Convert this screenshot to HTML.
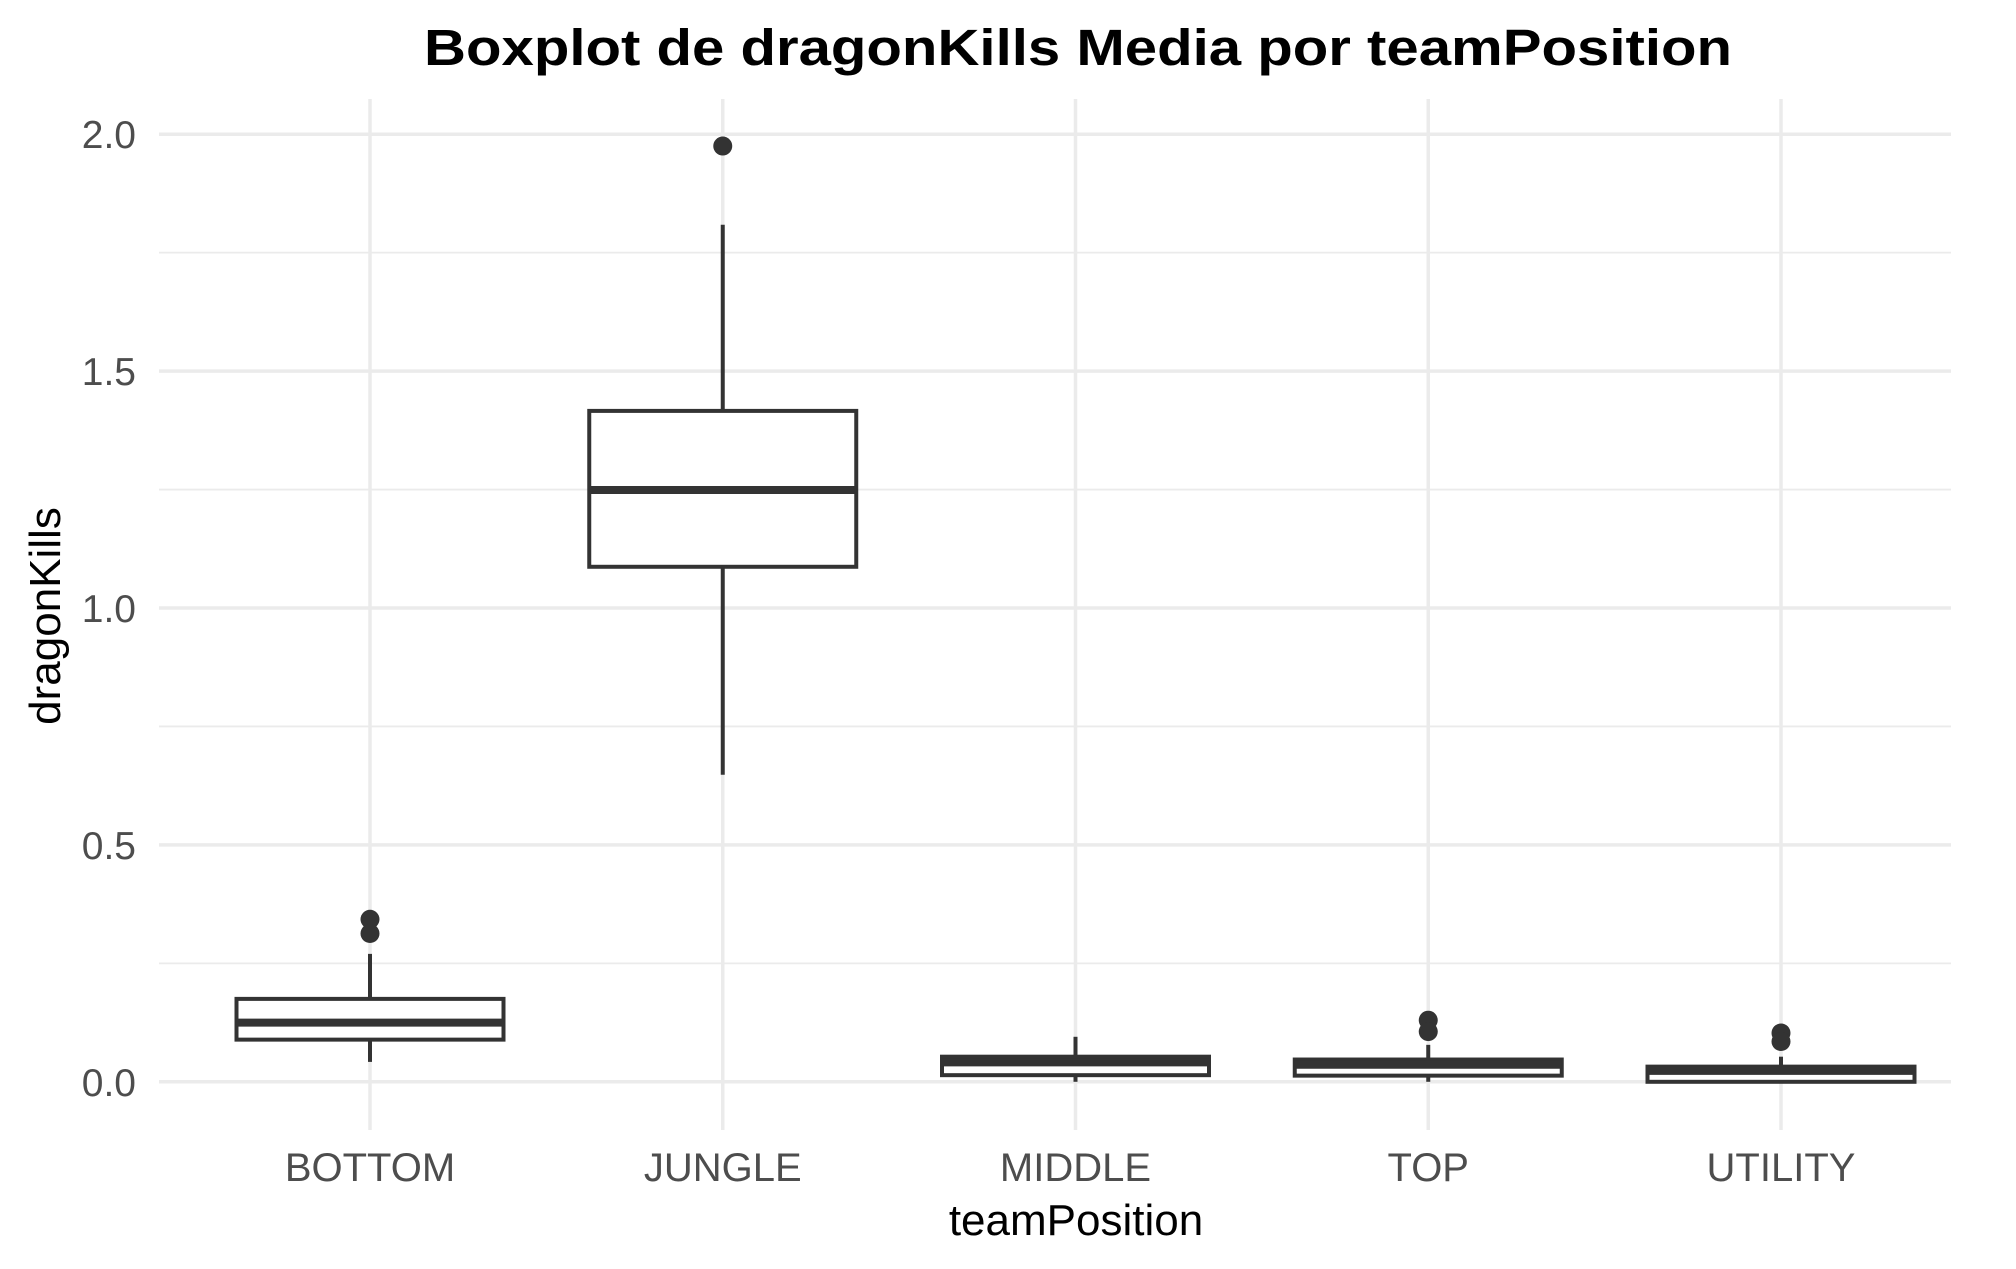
<!DOCTYPE html>
<html><head><meta charset="utf-8"><style>
html,body{margin:0;padding:0;background:#fff;}
svg{display:block;font-family:"Liberation Sans",sans-serif;}
</style></head><body>
<svg id="chart" width="2016" height="1269" viewBox="0 0 2016 1269" xmlns="http://www.w3.org/2000/svg">
<text x="1078" y="65" text-anchor="middle" font-size="51" font-weight="bold" fill="#000" textLength="1308" lengthAdjust="spacingAndGlyphs">Boxplot de dragonKills Media por teamPosition</text>
<g id="grid"></g>
<g id="boxes"></g>
<g id="axes"></g>
<text x="1076" y="1235" text-anchor="middle" font-size="44" fill="#000">teamPosition</text>
<text transform="translate(60,616) rotate(-90)" text-anchor="middle" font-size="44" fill="#000">dragonKills</text>
</svg>
<script>
const categories = ["BOTTOM","JUNGLE","MIDDLE","TOP","UTILITY"];
const lowerWhisker = [0.042, 0.648, 0.0, 0.0, 0.0];
const q1Values = [0.089, 1.087, 0.014, 0.013, 0.0];
const medianValues = [0.125, 1.249, 0.041, 0.036, 0.023];
const q3Values = [0.175, 1.416, 0.053, 0.047, 0.032];
const upperWhisker = [0.27, 1.809, 0.095, 0.078, 0.053];
const outlierValues = [[0.343, 0.313], [1.975], [], [0.13, 0.106], [0.103, 0.085]];
const yTicks = [0, 0.5, 1.0, 1.5, 2.0];
const yTickLabels = ["0.0","0.5","1.0","1.5","2.0"];
const yMinor = [0.25, 0.75, 1.25, 1.75];

const NS = "http://www.w3.org/2000/svg";
const plotL = 159, plotR = 1951, plotT = 99, plotB = 1130;
const y = v => 1081.8 - v * 473.8;
const x = i => 370 + i * 352.75;
const halfW = 133.5;
function mk(tag, attrs, parent) {
  const e = document.createElementNS(NS, tag);
  for (const k in attrs) e.setAttribute(k, attrs[k]);
  parent.appendChild(e);
  return e;
}
const grid = document.getElementById('grid');
const boxes = document.getElementById('boxes');
const axes = document.getElementById('axes');
yMinor.forEach(v => {
  const l = mk('line', {x1: plotL, x2: plotR, y1: y(v), y2: y(v), stroke: '#ebebeb', 'stroke-width': 1.8}, grid);
  
  
});
yTicks.forEach((v, i) => {
  const l = mk('line', {x1: plotL, x2: plotR, y1: y(v), y2: y(v), stroke: '#ebebeb', 'stroke-width': 3.5}, grid);
  
  
  const t = mk('text', {x: 136, y: y(v) + 14, 'text-anchor': 'end', 'font-size': 39, fill: '#4d4d4d'}, axes);
  t.textContent = yTickLabels[i];
  
  
});
categories.forEach((c, i) => {
  const l = mk('line', {x1: x(i), x2: x(i), y1: plotT, y2: plotB, stroke: '#ebebeb', 'stroke-width': 3.5}, grid);
  
  
  const t = mk('text', {x: x(i), y: 1181, 'text-anchor': 'middle', 'font-size': 40, fill: '#4d4d4d'}, axes);
  t.textContent = c;
  
  

  const g = mk('g', {}, boxes);
  
  
  const w1 = mk('line', {x1: x(i), x2: x(i), y1: y(q3Values[i]), y2: y(upperWhisker[i]), stroke: '#333', 'stroke-width': 4}, g);
  
  
  const w2 = mk('line', {x1: x(i), x2: x(i), y1: y(q1Values[i]), y2: y(lowerWhisker[i]), stroke: '#333', 'stroke-width': 4}, g);
  
  
  const r = mk('rect', {x: x(i) - halfW, y: y(q3Values[i]), width: 2 * halfW, height: Math.max(0, y(q1Values[i]) - y(q3Values[i])), fill: '#fff', stroke: '#333', 'stroke-width': 4}, g);
  
  
  const m = mk('line', {x1: x(i) - halfW, x2: x(i) + halfW, y1: y(medianValues[i]), y2: y(medianValues[i]), stroke: '#333', 'stroke-width': 8}, g);
  
  
  outlierValues[i].forEach(v => {
    const p = mk('circle', {cx: x(i), cy: y(v), r: 9.5, fill: '#333'}, g);
    
    
  });
});
</script>
</body></html>
